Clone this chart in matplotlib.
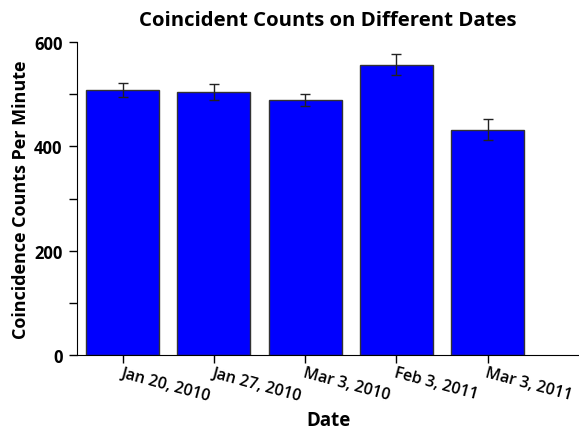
import matplotlib.pyplot as plt
from matplotlib.ticker import MultipleLocator

# Data
dates = ["Jan 20, 2010", "Jan 27, 2010", "Mar 3, 2010", "Feb 3, 2011", "Mar 3, 2011"]
counts = [508, 505, 489, 557, 432]
errors = [13.5, 15.5, 11, 21, 20]

plt.rcParams['font.family'] = ['Open Sans', 'DejaVu Sans']

fig = plt.figure(figsize=(5.79, 4.31), dpi=100)
ax = fig.add_axes([0.133, 0.174, 0.867, 0.726])

pos = list(range(len(dates)))
ax.bar(pos, counts, width=0.8, color="#0000ff", edgecolor="#333333", linewidth=1,
       yerr=errors, error_kw=dict(ecolor="#222222", elinewidth=1, capsize=3.5, capthick=1))

ax.set_xlim(-0.5, 5)
ax.set_ylim(0, 600)
ax.yaxis.set_major_locator(MultipleLocator(200))
ax.yaxis.set_minor_locator(MultipleLocator(100))

ax.set_xticks(pos)
ax.set_xticklabels(dates, rotation=-15, ha="left", va="top", rotation_mode="anchor",
                   fontsize=11.5, fontweight="semibold")
for lbl in ax.get_yticklabels():
    lbl.set_fontweight("bold")
    lbl.set_fontsize(12)

ax.tick_params(axis="y", which="major", length=6, width=1, pad=4.5)
ax.tick_params(axis="y", which="minor", length=6, width=1)
ax.tick_params(axis="x", length=6, width=1, pad=1)

ax.spines["top"].set_visible(False)
ax.spines["right"].set_visible(False)

ax.set_title("Coincident Counts on Different Dates", fontsize=14.7, fontweight="bold", pad=12.5)
ax.set_xlabel("Date", fontsize=13.5, fontweight="bold", labelpad=4)
ax.set_ylabel("Coincidence Counts Per Minute", fontsize=13, fontweight="bold", labelpad=3)

fig.savefig("out.png", dpi=100)
